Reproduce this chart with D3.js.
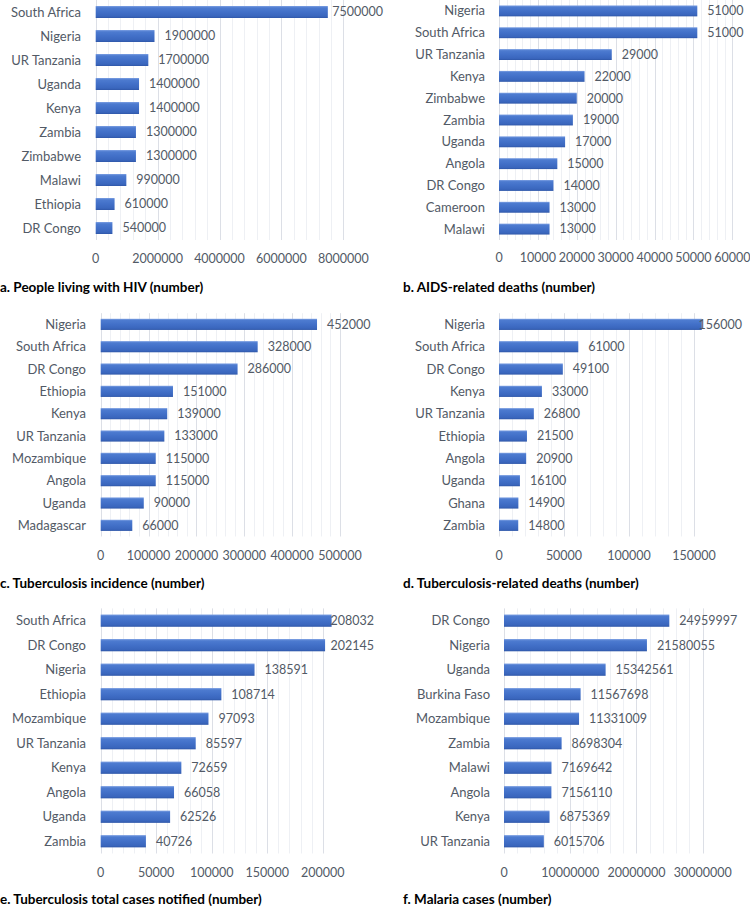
<!DOCTYPE html>
<html><head><meta charset="utf-8">
<script src="https://cdn.jsdelivr.net/npm/d3@7"></script>
<style>body{margin:0;background:#fff}svg{display:block}</style>
</head><body>
<script>
// ---- data ----
const hivCountries = ["South Africa","Nigeria","UR Tanzania","Uganda","Kenya","Zambia","Zimbabwe","Malawi","Ethiopia","DR Congo"];
const hivValues = [7500000,1900000,1700000,1400000,1400000,1300000,1300000,990000,610000,540000];
const hivTicks = [0,2000000,4000000,6000000,8000000];

const aidsCountries = ["Nigeria","South Africa","UR Tanzania","Kenya","Zimbabwe","Zambia","Uganda","Angola","DR Congo","Cameroon","Malawi"];
const aidsValues = [51000,51000,29000,22000,20000,19000,17000,15000,14000,13000,13000];
const aidsTicks = [0,10000,20000,30000,40000,50000,60000];

const tbIncCountries = ["Nigeria","South Africa","DR Congo","Ethiopia","Kenya","UR Tanzania","Mozambique","Angola","Uganda","Madagascar"];
const tbIncValues = [452000,328000,286000,151000,139000,133000,115000,115000,90000,66000];
const tbIncTicks = [0,100000,200000,300000,400000,500000];

const tbDeathCountries = ["Nigeria","South Africa","DR Congo","Kenya","UR Tanzania","Ethiopia","Angola","Uganda","Ghana","Zambia"];
const tbDeathValues = [156000,61000,49100,33000,26800,21500,20900,16100,14900,14800];
const tbDeathTicks = [0,50000,100000,150000];

const tbNotifCountries = ["South Africa","DR Congo","Nigeria","Ethiopia","Mozambique","UR Tanzania","Kenya","Angola","Uganda","Zambia"];
const tbNotifValues = [208032,202145,138591,108714,97093,85597,72659,66058,62526,40726];
const tbNotifTicks = [0,50000,100000,150000,200000];

const malariaCountries = ["DR Congo","Nigeria","Uganda","Burkina Faso","Mozambique","Zambia","Malawi","Angola","Kenya","UR Tanzania"];
const malariaValues = [24959997,21580055,15342561,11567698,11331009,8698304,7169642,7156110,6875369,6015706];
const malariaTicks = [0,10000000,20000000,30000000];

const titles = ["a. People living with HIV (number)","b. AIDS-related deaths (number)","c. Tuberculosis incidence (number)","d. Tuberculosis-related deaths (number)","e. Tuberculosis total cases notified (number)","f. Malaria cases (number)"];

// ---- layout (pixels) ----
const panels = [
  {cats:hivCountries, vals:hivValues, ticks:hivTicks, x0:95.7, x1:343.3, y0:0, y1:240, catX:81, tickY:259, labelMax:383, titleX:0, titleY:287},
  {cats:aidsCountries, vals:aidsValues, ticks:aidsTicks, x0:499, x1:732.3, y0:0, y1:240, catX:485, tickY:258, labelMax:746, titleX:403, titleY:287},
  {cats:tbIncCountries, vals:tbIncValues, ticks:tbIncTicks, x0:100.7, x1:340, y0:313.2, y1:536.5, catX:86, tickY:555.7, labelMax:372, titleX:0, titleY:583},
  {cats:tbDeathCountries, vals:tbDeathValues, ticks:tbDeathTicks, x0:499, x1:694, y0:313.2, y1:536.5, catX:485, tickY:555.7, labelMax:742, titleX:403, titleY:583.3},
  {cats:tbNotifCountries, vals:tbNotifValues, ticks:tbNotifTicks, x0:100.7, x1:322.7, y0:608.4, y1:853.5, catX:86, tickY:872.7, labelMax:374, titleX:0, titleY:899.3},
  {cats:malariaCountries, vals:malariaValues, ticks:malariaTicks, x0:504, x1:702.7, y0:608.4, y1:853.5, catX:490, tickY:872.7, labelMax:746, titleX:403, titleY:899.3}
];

const W = 750, H = 907;
const FONT = "Lato, 'Open Sans', sans-serif";
const TXT = "#525a66";
const FS = 13;
const FS_NUM = 12.5;

const svg = d3.select("body").append("svg").attr("width", W).attr("height", H);
const defs = svg.append("defs");
const grad = defs.append("linearGradient").attr("id","barGrad").attr("x1",0).attr("y1",0).attr("x2",0).attr("y2",1);
[[0,"#7da0e2"],[0.15,"#4d7bd0"],[0.5,"#4270c8"],[0.85,"#3a66bd"],[1,"#2f57a8"]].forEach(s=>grad.append("stop").attr("offset",s[0]).attr("stop-color",s[1]));

panels.forEach((p, i) => {
  const g = svg.append("g");
  const dmax = p.ticks[p.ticks.length-1];
  const x = d3.scaleLinear().domain([0, dmax]).range([p.x0, p.x1]);
  const y = d3.scaleBand().domain(p.cats).range([p.y0, p.y1]).paddingInner(0.5).paddingOuter(0.25);

  // minor gridlines
  const step = p.ticks[1] - p.ticks[0];
  const minor = d3.range(0, dmax + 1e-9, step/5).filter(v => Math.abs(v/step - Math.round(v/step)) > 1e-6);
  g.selectAll(".minor").data(minor).join("line")
    .attr("x1", d=>Math.round(x(d))+0.5).attr("x2", d=>Math.round(x(d))+0.5)
    .attr("y1", p.y0).attr("y2", p.y1)
    .attr("stroke", "#eef0f4").attr("stroke-width", 1);
  // major gridlines
  g.selectAll(".major").data(p.ticks).join("line")
    .attr("x1", d=>Math.round(x(d))+0.5).attr("x2", d=>Math.round(x(d))+0.5)
    .attr("y1", p.y0).attr("y2", p.y1)
    .attr("stroke", "#dcdfe6").attr("stroke-width", 1);

  // bars
  g.selectAll("rect.bar").data(p.cats).join("rect").attr("class","bar")
    .attr("x", x(0)).attr("y", d=>y(d))
    .attr("width", (d,j)=>x(p.vals[j]) - x(0))
    .attr("height", y.bandwidth())
    .attr("fill", "url(#barGrad)");

  // value labels
  g.selectAll("text.val").data(p.cats).join("text").attr("class","val")
    .attr("y", d=>y(d) + y.bandwidth()/2)
    .attr("dy", "0.35em")
    .attr("font-family", FONT).attr("font-size", FS_NUM).attr("fill", TXT)
    .text((d,j)=>String(p.vals[j]))
    .each(function(d,j){
      const w = this.getComputedTextLength();
      const xx = Math.min(x(p.vals[j]) + 10, p.labelMax - w);
      d3.select(this).attr("x", xx);
    });

  // category labels
  g.selectAll("text.cat").data(p.cats).join("text").attr("class","cat")
    .attr("x", p.catX).attr("y", d=>y(d) + y.bandwidth()/2)
    .attr("dy", "0.35em").attr("text-anchor","end")
    .attr("font-family", FONT).attr("font-size", FS).attr("fill", TXT)
    .text(d=>d);

  // tick labels
  g.selectAll("text.tick").data(p.ticks).join("text").attr("class","tick")
    .attr("x", d=>x(d)).attr("y", p.tickY).attr("dy","0.35em")
    .attr("text-anchor","middle")
    .attr("font-family", FONT).attr("font-size", FS_NUM).attr("fill", TXT)
    .text(d=>String(d));

  // title
  g.append("text").attr("x", p.titleX).attr("y", p.titleY).attr("dy","0.35em")
    .attr("font-family", FONT).attr("font-size", 13.5).attr("font-weight","bold").attr("fill","#000")
    .text(titles[i]);
});
</script>
</body></html>
